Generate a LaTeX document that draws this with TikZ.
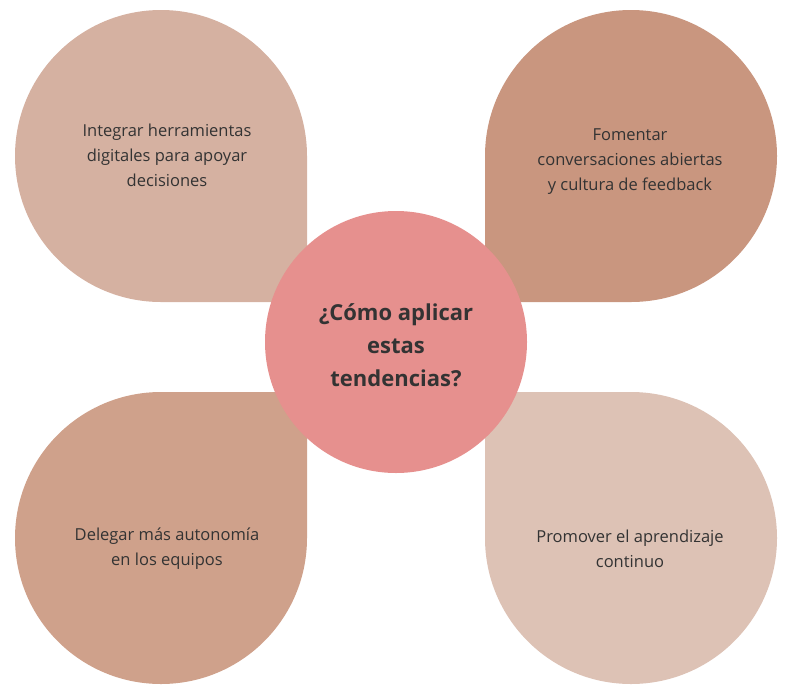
\documentclass[tikz,border=0pt]{standalone}
\usepackage{fontspec}
\setmainfont{Open Sans}
\definecolor{cTL}{HTML}{D5B1A1}
\definecolor{cTR}{HTML}{C9967F}
\definecolor{cBL}{HTML}{CFA18B}
\definecolor{cBR}{HTML}{DDC2B5}
\definecolor{cC}{HTML}{E6908E}
\definecolor{txt}{HTML}{333333}
\begin{document}
\begin{tikzpicture}[x=1pt,y=1pt,
  lbl/.style={align=center,text=txt,font=\fontsize{16.5}{25}\selectfont}]
\useasboundingbox (0,0) rectangle (787,-694);
\fill[cTL] (307,-302) -- (307,-156) arc[start angle=0,end angle=270,radius=146] -- cycle;
\fill[cTR] (485,-302) -- (631,-302) arc[start angle=270,end angle=540,radius=146] -- cycle;
\fill[cBL] (307,-392) -- (161,-392) arc[start angle=90,end angle=360,radius=146] -- cycle;
\fill[cBR] (485,-392) -- (485,-538) arc[start angle=180,end angle=450,radius=146] -- cycle;
\node[circle,fill=cC,minimum size=262pt,inner sep=0pt] (c) at (396,-342) {};
\node[align=center,text=txt,font=\bfseries\fontsize{22}{33}\selectfont] (ct) at (396,-345) {¿Cómo aplicar\\estas\\tendencias?};
\node[lbl] (tl) at (167,-155) {Integrar herramientas\\digitales para apoyar\\decisiones};
\node[lbl] (tr) at (630,-162) {Fomentar\\conversaciones abiertas\\y cultura de feedback};
\node[lbl] (bl) at (167,-549) {Delegar más autonomía\\en los equipos};
\node[lbl] (br) at (630,-549) {Promover el aprendizaje\\continuo};
\end{tikzpicture}
\end{document}
